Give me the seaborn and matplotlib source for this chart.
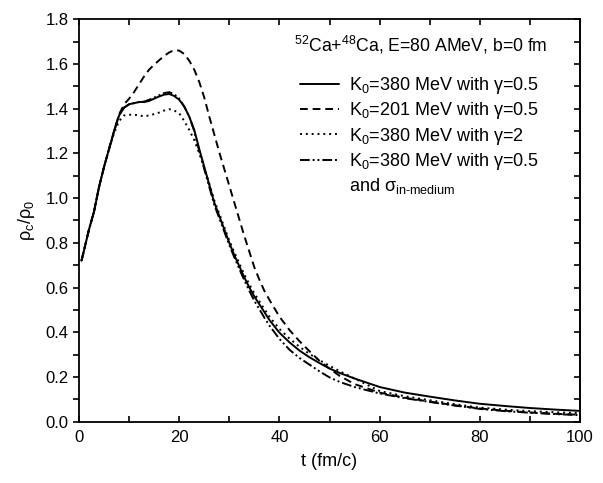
import numpy as np
import pandas as pd
import seaborn as sns
import matplotlib.pyplot as plt
from matplotlib.lines import Line2D
from matplotlib.ticker import MultipleLocator

# time grid (fm/c)
t = [0.5, 2, 3, 4, 5, 6, 7, 8, 9, 10, 11, 12, 13, 14, 15, 16, 17, 18, 19, 20,
     21, 22, 23, 24, 25, 26, 27, 28, 29, 30, 31, 32, 33, 34, 35, 36, 37, 38, 40, 42,
     44, 46, 48, 50, 52, 55, 60, 65, 70, 75, 80, 85, 90, 95, 100]

# K0=380 MeV, gamma=0.5
rho_380 = [0.72, 0.86, 0.94, 1.05, 1.14, 1.22, 1.30, 1.37, 1.405, 1.42, 1.425, 1.43, 1.43, 1.435, 1.445, 1.455, 1.463, 1.466, 1.457, 1.44,
           1.41, 1.365, 1.305, 1.22, 1.14, 1.06, 0.98, 0.92, 0.86, 0.80, 0.745, 0.695, 0.645, 0.60, 0.56, 0.525, 0.49, 0.455, 0.398, 0.355,
           0.318, 0.288, 0.262, 0.238, 0.218, 0.193, 0.155, 0.13, 0.112, 0.095, 0.08, 0.07, 0.061, 0.054, 0.048]

# K0=201 MeV, gamma=0.5
rho_201 = [0.72, 0.86, 0.94, 1.05, 1.14, 1.22, 1.30, 1.375, 1.42, 1.445, 1.475, 1.51, 1.545, 1.575, 1.597, 1.617, 1.636, 1.652, 1.662, 1.66,
           1.645, 1.615, 1.575, 1.52, 1.45, 1.365, 1.285, 1.205, 1.13, 1.055, 0.98, 0.905, 0.83, 0.76, 0.69, 0.635, 0.585, 0.545, 0.47, 0.41,
           0.36, 0.315, 0.272, 0.237, 0.205, 0.168, 0.13, 0.107, 0.09, 0.073, 0.059, 0.049, 0.041, 0.035, 0.031]

# K0=380 MeV, gamma=2
rho_g2 = [0.72, 0.86, 0.94, 1.05, 1.14, 1.22, 1.29, 1.345, 1.37, 1.373, 1.373, 1.37, 1.366, 1.37, 1.376, 1.383, 1.392, 1.398, 1.392, 1.38,
          1.345, 1.305, 1.26, 1.2, 1.135, 1.065, 0.99, 0.93, 0.87, 0.81, 0.758, 0.708, 0.658, 0.614, 0.574, 0.538, 0.503, 0.47, 0.415, 0.372,
          0.335, 0.303, 0.275, 0.25, 0.226, 0.193, 0.137, 0.114, 0.096, 0.078, 0.063, 0.054, 0.047, 0.042, 0.038]

# K0=380 MeV, gamma=0.5 and in-medium cross section
rho_med = [0.72, 0.86, 0.94, 1.05, 1.14, 1.22, 1.30, 1.37, 1.405, 1.42, 1.425, 1.43, 1.432, 1.44, 1.45, 1.46, 1.47, 1.474, 1.465, 1.445,
           1.41, 1.365, 1.30, 1.21, 1.13, 1.05, 0.97, 0.91, 0.85, 0.79, 0.735, 0.683, 0.632, 0.585, 0.54, 0.503, 0.465, 0.43, 0.37, 0.322,
           0.285, 0.255, 0.225, 0.198, 0.178, 0.155, 0.126, 0.105, 0.088, 0.072, 0.057, 0.047, 0.04, 0.034, 0.029]

labels = ["K$_\\mathrm{0}$=380 MeV with γ=0.5",
          "K$_\\mathrm{0}$=201 MeV with γ=0.5",
          "K$_\\mathrm{0}$=380 MeV with γ=2",
          "K$_\\mathrm{0}$=380 MeV with γ=0.5"]
extra_label = "and σ$_\\mathrm{in\u2010medium}$"

sns.set_theme(style="ticks")
plt.rcParams['font.family'] = ['Liberation Sans', 'DejaVu Sans']
plt.rcParams['mathtext.fontset'] = 'custom'
plt.rcParams['mathtext.rm'] = 'Liberation Sans'
plt.rcParams['mathtext.it'] = 'Liberation Sans'
plt.rcParams['mathtext.sf'] = 'Liberation Sans'
plt.rcParams['text.color'] = 'black'
plt.rcParams['axes.labelcolor'] = 'black'

fig = plt.figure(figsize=(6.03, 4.83), dpi=100)
ax = fig.add_axes([0.131, 0.127, 0.831, 0.833])

styles = ['-', (0, (4, 2.5)), (0, (1, 2)), (0, (5, 1.5, 1, 1.5, 1, 1.5))]
for y, lab, ls in zip([rho_380, rho_201, rho_g2, rho_med], labels, styles):
    sns.lineplot(x=t, y=y, ax=ax, color='black', linestyle=ls, linewidth=1.4, label=lab)

ax.set_xlim(0, 100)
ax.set_ylim(0, 1.8)
ax.xaxis.set_major_locator(MultipleLocator(20))
ax.xaxis.set_minor_locator(MultipleLocator(10))
ax.yaxis.set_major_locator(MultipleLocator(0.2))
ax.yaxis.set_minor_locator(MultipleLocator(0.1))
ax.yaxis.set_major_formatter(plt.FormatStrFormatter('%.1f'))
ax.tick_params(axis='x', which='both', direction='in', top=True, labelsize=12, colors='black', pad=6)
ax.tick_params(axis='y', which='both', direction='out', labelsize=12, colors='black')
ax.tick_params(which='major', length=4, width=1.2)
ax.tick_params(which='minor', length=4, width=1.2)
# right axis ticks point inward
ax2 = ax.secondary_yaxis('right')
ax2.yaxis.set_major_locator(MultipleLocator(0.2))
ax2.yaxis.set_minor_locator(MultipleLocator(0.1))
ax2.tick_params(which='both', direction='in', length=4, width=1.2, labelright=False, colors='black')
for s in ax.spines.values():
    s.set_linewidth(1.3)
    s.set_color('black')
ax2.spines['right'].set_linewidth(1.3)

ax.set_xlabel('t (fm/c)', fontsize=13, labelpad=6)
ax.set_ylabel('ρ$_\\mathrm{c}$/ρ$_\\mathrm{0}$', fontsize=13, labelpad=6)

ax.text(0.43, 0.92, '$^\\mathrm{52}$Ca+$^\\mathrm{48}$Ca, E=80 AMeV, b=0 fm', transform=ax.transAxes,
        fontsize=12.7)

handles, labs = ax.get_legend_handles_labels()
handles.append(Line2D([], [], linestyle='none'))
labs.append(extra_label)
leg = ax.legend(handles, labs, loc='upper left', bbox_to_anchor=(0.415, 0.893), frameon=False, fontsize=13,
                handlelength=2.2, handletextpad=0.55, labelspacing=0.24, borderpad=0.2)
for txt in leg.get_texts():
    txt.set_color('black')

fig.savefig('out.png', dpi=100)
